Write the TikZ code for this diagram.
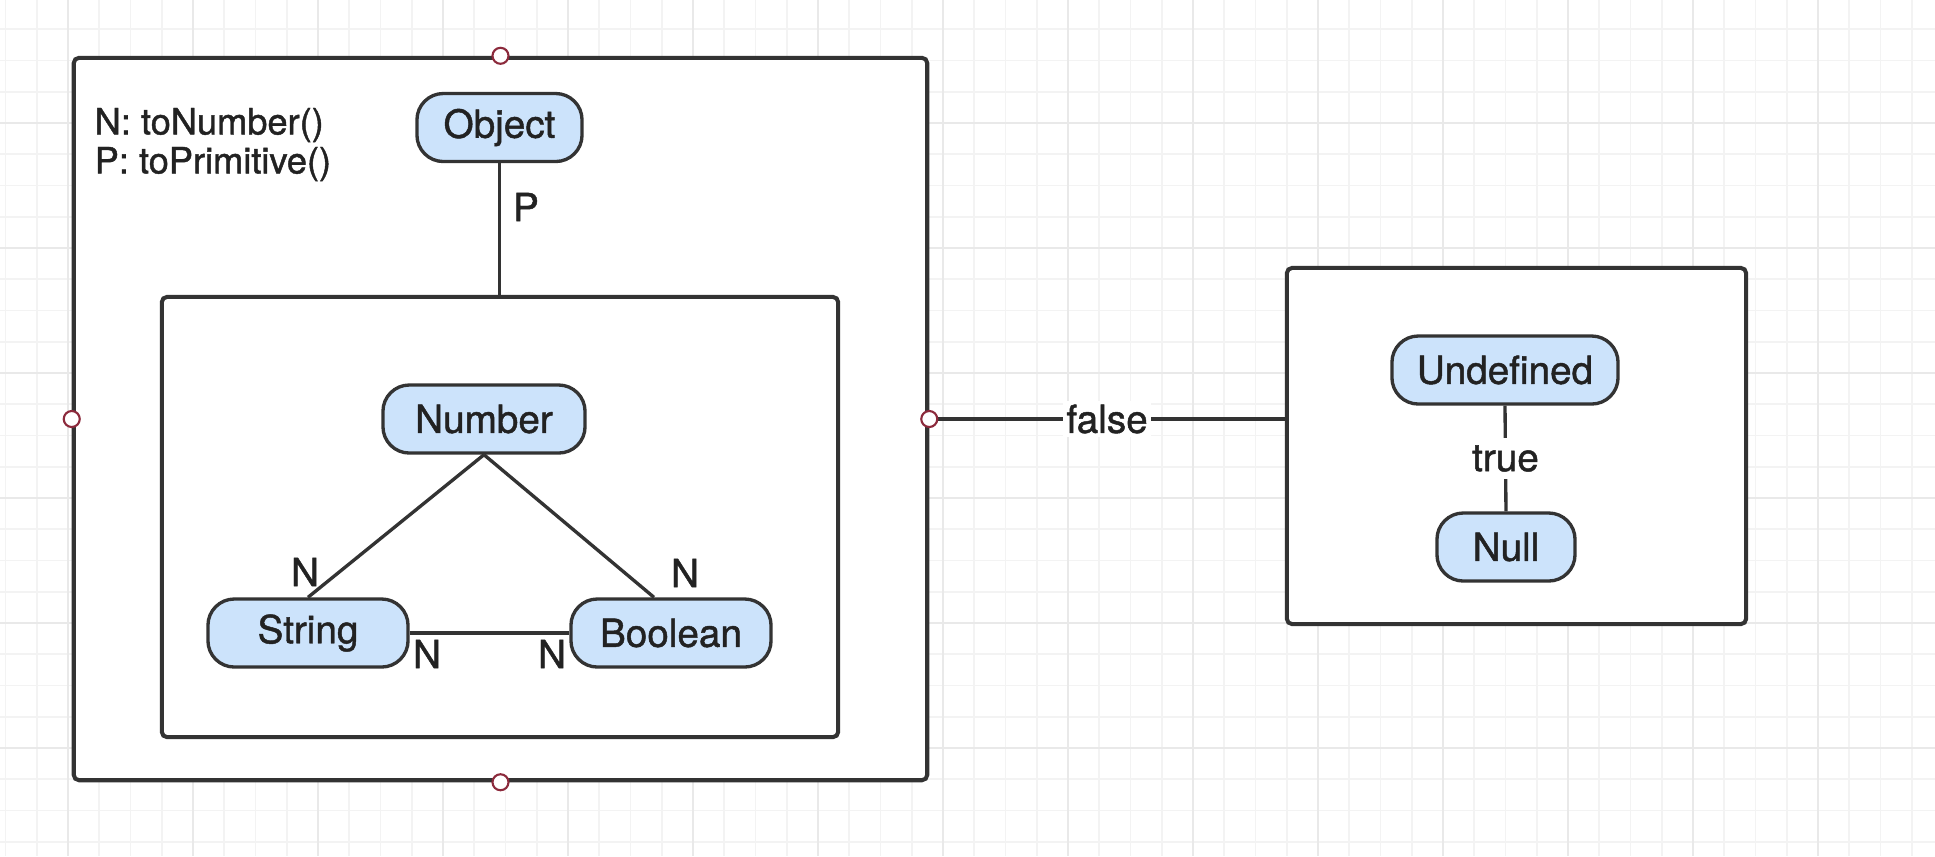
\documentclass[tikz,border=0pt]{standalone}
\usepackage{fontspec}
\setmainfont{TeX Gyre Heros}[FakeBold=1.2]
\definecolor{edgec}{HTML}{333333}
\definecolor{nodefill}{HTML}{CCE3FB}
\definecolor{txt}{HTML}{222222}
\definecolor{gridminor}{HTML}{F3F3F3}
\definecolor{gridmajor}{HTML}{E9E9E9}
\definecolor{portc}{HTML}{8C2A3C}
\begin{document}
\begin{tikzpicture}[x=0.01cm,y=-0.01cm,
  font=\fontsize{11}{13}\selectfont, text=txt,
  typebox/.style={draw=edgec, line width=0.95pt, fill=nodefill, rounded corners=7.5pt,
    minimum height=0.68cm, inner sep=0pt},
  container/.style={draw=edgec, line width=1.15pt, fill=white, rounded corners=1.5pt, inner sep=0pt},
  conn/.style={draw=edgec, line width=0.95pt},
  lbl/.style={inner sep=1pt},
  legend/.style={anchor=west, inner sep=0pt, font=\fontsize{10.3}{12}\selectfont},
  portnode/.style={circle, draw=portc, fill=white, line width=0.6pt, minimum size=0.16cm, inner sep=0pt}]
\useasboundingbox (0,0) rectangle (1935,856);
\fill[white] (0,0) rectangle (1935,856);
% grid
\foreach \i in {0,...,61} { \draw[gridminor, line width=0.45pt] ({5.5+31.25*\i},0) -- ({5.5+31.25*\i},856); }
\foreach \j in {0,...,28} { \draw[gridminor, line width=0.45pt] (0,{-2+31.25*\j}) -- (1935,{-2+31.25*\j}); }
\foreach \i in {0,...,15} { \draw[gridmajor, line width=0.5pt] ({68+125*\i},0) -- ({68+125*\i},856); }
\foreach \j in {1,...,6} { \draw[gridmajor, line width=0.5pt] (0,{-2+125*\j}) -- (1935,{-2+125*\j}); }

% containers
\node[container, minimum width=8.53cm, minimum height=7.22cm] (outer) at (500.5,419) {};
\node[container, minimum width=6.76cm, minimum height=4.40cm] (inner) at (500,517) {};
\node[container, minimum width=4.59cm, minimum height=3.56cm] (rbox) at (1516.5,446) {};

% legend
\node[legend] (legN) at (94,125) {N: toNumber()};
\node[legend] (legP) at (94,164) {P: toPrimitive()};

% type nodes
\node[typebox, minimum width=1.65cm] (obj) at (499.5,127.5) {Object};
\node[typebox, minimum width=2.02cm] (num) at (484,419) {Number};
\node[typebox, minimum width=2.00cm] (str) at (308,633) {String};
\node[typebox, minimum width=2.00cm] (bool) at (671,633) {Boolean};
\node[typebox, minimum width=2.26cm] (und) at (1505,370) {Undefined};
\node[typebox, minimum width=1.38cm] (nul) at (1506,547) {Null};

% connectors
\draw[conn] (obj.south) -- (obj.south |- inner.north);
\node[lbl] (lP) at (526,207) {P};
\draw[conn] (num.south) -- (str.north);
\draw[conn] (num.south) -- ([xshift=-0.17cm]bool.north);
\draw[conn] (str.east) -- (bool.west);
\node[lbl] (lN1) at (305,572) {N};
\node[lbl] (lN2) at (685,573) {N};
\node[lbl] (lN3) at (427,654) {N};
\node[lbl] (lN4) at (552,654) {N};
\draw[conn] (und.south) -- (nul.north) node[midway, fill=white, inner sep=2pt] (ltrue) {true};
\draw[conn] (outer.east) -- (outer.east -| rbox.west) node[midway, fill=white, inner sep=1pt] (lfalse) {false};

% ports
\node[portnode] (pt) at (outer.north) {};
\node[portnode] (pl) at (outer.west) {};
\node[portnode] (pr) at (outer.east) {};
\node[portnode] (pb) at (outer.south) {};
\end{tikzpicture}
\end{document}
